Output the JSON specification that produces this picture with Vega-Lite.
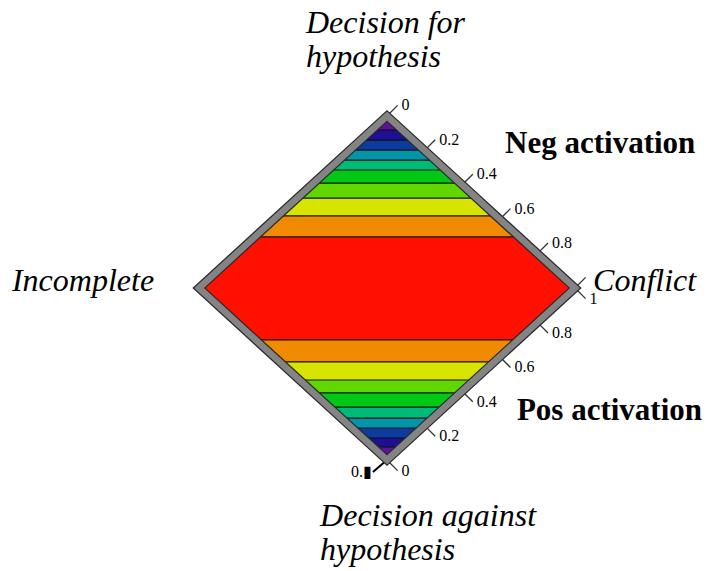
{
  "$schema": "https://vega.github.io/schema/vega-lite/v6.json",
  "width": 707,
  "height": 571,
  "autosize": {"type": "none"},
  "padding": 0,
  "background": "white",
  "config": {"view": {"stroke": null}},
  "datasets": {
    "bands": [
      {"band": "red", "level": "red", "y": -0.302, "xl": -0.698, "xr": 0.698},
      {"band": "red", "level": "red", "y": 0, "xl": -1, "xr": 1},
      {"band": "red", "level": "red", "y": 0.297, "xl": -0.703, "xr": 0.703},
      {"band": "orange_t", "level": "orange", "y": 0.297, "xl": -0.703, "xr": 0.703},
      {"band": "orange_t", "level": "orange", "y": 0.419, "xl": -0.581, "xr": 0.581},
      {"band": "orange_b", "level": "orange", "y": -0.430, "xl": -0.570, "xr": 0.570},
      {"band": "orange_b", "level": "orange", "y": -0.302, "xl": -0.698, "xr": 0.698},
      {"band": "yellow_t", "level": "yellow", "y": 0.419, "xl": -0.581, "xr": 0.581},
      {"band": "yellow_t", "level": "yellow", "y": 0.523, "xl": -0.477, "xr": 0.477},
      {"band": "yellow_b", "level": "yellow", "y": -0.535, "xl": -0.465, "xr": 0.465},
      {"band": "yellow_b", "level": "yellow", "y": -0.430, "xl": -0.570, "xr": 0.570},
      {"band": "yg_t", "level": "yellowgreen", "y": 0.523, "xl": -0.477, "xr": 0.477},
      {"band": "yg_t", "level": "yellowgreen", "y": 0.610, "xl": -0.390, "xr": 0.390},
      {"band": "yg_b", "level": "yellowgreen", "y": -0.610, "xl": -0.390, "xr": 0.390},
      {"band": "yg_b", "level": "yellowgreen", "y": -0.535, "xl": -0.465, "xr": 0.465},
      {"band": "green_t", "level": "green", "y": 0.610, "xl": -0.390, "xr": 0.390},
      {"band": "green_t", "level": "green", "y": 0.686, "xl": -0.314, "xr": 0.314},
      {"band": "green_b", "level": "green", "y": -0.692, "xl": -0.308, "xr": 0.308},
      {"band": "green_b", "level": "green", "y": -0.610, "xl": -0.390, "xr": 0.390},
      {"band": "sg_t", "level": "seagreen", "y": 0.686, "xl": -0.314, "xr": 0.314},
      {"band": "sg_t", "level": "seagreen", "y": 0.744, "xl": -0.256, "xr": 0.256},
      {"band": "sg_b", "level": "seagreen", "y": -0.756, "xl": -0.244, "xr": 0.244},
      {"band": "sg_b", "level": "seagreen", "y": -0.692, "xl": -0.308, "xr": 0.308},
      {"band": "teal_t", "level": "teal", "y": 0.744, "xl": -0.256, "xr": 0.256},
      {"band": "teal_t", "level": "teal", "y": 0.802, "xl": -0.198, "xr": 0.198},
      {"band": "teal_b", "level": "teal", "y": -0.814, "xl": -0.186, "xr": 0.186},
      {"band": "teal_b", "level": "teal", "y": -0.756, "xl": -0.244, "xr": 0.244},
      {"band": "blue_t", "level": "blue", "y": 0.802, "xl": -0.198, "xr": 0.198},
      {"band": "blue_t", "level": "blue", "y": 0.860, "xl": -0.140, "xr": 0.140},
      {"band": "blue_b", "level": "blue", "y": -0.872, "xl": -0.128, "xr": 0.128},
      {"band": "blue_b", "level": "blue", "y": -0.814, "xl": -0.186, "xr": 0.186},
      {"band": "navy_t", "level": "navy", "y": 0.860, "xl": -0.140, "xr": 0.140},
      {"band": "navy_t", "level": "navy", "y": 0.919, "xl": -0.081, "xr": 0.081},
      {"band": "navy_b", "level": "navy", "y": -0.924, "xl": -0.076, "xr": 0.076},
      {"band": "navy_b", "level": "navy", "y": -0.872, "xl": -0.128, "xr": 0.128},
      {"band": "purple_t", "level": "purple", "y": 0.919, "xl": -0.081, "xr": 0.081},
      {"band": "purple_t", "level": "purple", "y": 1.0, "xl": 0, "xr": 0},
      {"band": "purple_b", "level": "purple", "y": -1.0, "xl": 0, "xr": 0},
      {"band": "purple_b", "level": "purple", "y": -0.924, "xl": -0.076, "xr": 0.076}
    ],
    "contours": [
      {"y": 0.297, "xl": -0.703, "xr": 0.703},
      {"y": 0.419, "xl": -0.581, "xr": 0.581},
      {"y": 0.523, "xl": -0.477, "xr": 0.477},
      {"y": 0.610, "xl": -0.390, "xr": 0.390},
      {"y": 0.686, "xl": -0.314, "xr": 0.314},
      {"y": 0.744, "xl": -0.256, "xr": 0.256},
      {"y": 0.802, "xl": -0.198, "xr": 0.198},
      {"y": 0.860, "xl": -0.140, "xr": 0.140},
      {"y": 0.919, "xl": -0.081, "xr": 0.081},
      {"y": -0.302, "xl": -0.698, "xr": 0.698},
      {"y": -0.430, "xl": -0.570, "xr": 0.570},
      {"y": -0.535, "xl": -0.465, "xr": 0.465},
      {"y": -0.610, "xl": -0.390, "xr": 0.390},
      {"y": -0.692, "xl": -0.308, "xr": 0.308},
      {"y": -0.756, "xl": -0.244, "xr": 0.244},
      {"y": -0.814, "xl": -0.186, "xr": 0.186},
      {"y": -0.872, "xl": -0.128, "xr": 0.128},
      {"y": -0.924, "xl": -0.076, "xr": 0.076}
    ],
    "border": [
      {"i": 0, "x": 0, "y": 1},
      {"i": 1, "x": 1, "y": 0},
      {"i": 2, "x": 0, "y": -1},
      {"i": 3, "x": -1, "y": 0},
      {"i": 4, "x": 0, "y": 1},
      {"i": 5, "x": 0.5, "y": 0.5}
    ],
    "ticks": [
      {"axis": "neg", "t": "0", "x": 0, "y": 1, "x2": 0.0564, "y2": 1.0617},
      {"axis": "neg", "t": "0.2", "x": 0.2, "y": 0.8, "x2": 0.2564, "y2": 0.8617},
      {"axis": "neg", "t": "0.4", "x": 0.4, "y": 0.6, "x2": 0.4564, "y2": 0.6617},
      {"axis": "neg", "t": "0.6", "x": 0.6, "y": 0.4, "x2": 0.6564, "y2": 0.4617},
      {"axis": "neg", "t": "0.8", "x": 0.8, "y": 0.2, "x2": 0.8564, "y2": 0.2617},
      {"axis": "neg", "t": "1", "x": 1, "y": 0, "x2": 1.0564, "y2": 0.0617},
      {"axis": "pos", "t": "0", "x": 0, "y": -1, "x2": 0.0564, "y2": -1.0617},
      {"axis": "pos", "t": "0.2", "x": 0.2, "y": -0.8, "x2": 0.2564, "y2": -0.8617},
      {"axis": "pos", "t": "0.4", "x": 0.4, "y": -0.6, "x2": 0.4564, "y2": -0.6617},
      {"axis": "pos", "t": "0.6", "x": 0.6, "y": -0.4, "x2": 0.6564, "y2": -0.4617},
      {"axis": "pos", "t": "0.8", "x": 0.8, "y": -0.2, "x2": 0.8564, "y2": -0.2617},
      {"axis": "pos", "t": "1", "x": 1, "y": 0, "x2": 1.0564, "y2": -0.0617}
    ],
    "italicLabels": [
      {"text": "Decision for", "x": -0.431, "y": 1.483},
      {"text": "hypothesis", "x": -0.431, "y": 1.285},
      {"text": "Incomplete", "x": -1.995, "y": -0.017},
      {"text": "Conflict", "x": 1.096, "y": -0.017},
      {"text": "Decision against", "x": -0.356, "y": -1.384},
      {"text": "hypothesis", "x": -0.356, "y": -1.581}
    ],
    "boldLabels": [
      {"text": "Neg activation", "x": 0.628, "y": 0.785},
      {"text": "Pos activation", "x": 0.691, "y": -0.767}
    ]
  },
  "layer": [
    {
      "data": {"name": "bands"},
      "mark": {"type": "area", "orient": "horizontal", "opacity": 1},
      "encoding": {
        "y": {"field": "y", "type": "quantitative", "scale": {"domain": [-1.6453, 1.6744], "nice": false, "zero": false}, "axis": null},
        "x": {"field": "xl", "type": "quantitative", "stack": null, "scale": {"domain": [-2.0585, 1.7021], "nice": false, "zero": false}, "axis": null},
        "x2": {"field": "xr"},
        "detail": {"field": "band"},
        "color": {
          "field": "level", "type": "nominal", "legend": null,
          "scale": {
            "domain": ["purple", "navy", "blue", "teal", "seagreen", "green", "yellowgreen", "yellow", "orange", "red"],
            "range": ["#5b1499", "#1e0f94", "#0b3c9e", "#0096aa", "#00bb78", "#00c814", "#60d800", "#d6e400", "#f08a00", "#ff1000"]
          }
        }
      }
    },
    {
      "data": {"name": "contours"},
      "mark": {"type": "rule", "color": "#111111", "strokeWidth": 1.2},
      "encoding": {
        "y": {"field": "y", "type": "quantitative", "scale": {"domain": [-1.6453, 1.6744], "nice": false, "zero": false}, "axis": null},
        "x": {"field": "xl", "type": "quantitative", "scale": {"domain": [-2.0585, 1.7021], "nice": false, "zero": false}, "axis": null},
        "x2": {"field": "xr"}
      }
    },
    {
      "data": {"name": "ticks"},
      "mark": {"type": "rule", "color": "#333333", "strokeWidth": 1.3},
      "encoding": {
        "x": {"field": "x", "type": "quantitative", "scale": {"domain": [-2.0585, 1.7021], "nice": false, "zero": false}, "axis": null},
        "y": {"field": "y", "type": "quantitative", "scale": {"domain": [-1.6453, 1.6744], "nice": false, "zero": false}, "axis": null},
        "x2": {"field": "x2"},
        "y2": {"field": "y2"}
      }
    },
    {
      "data": {"values": [{"x": 0, "y": -1, "x2": -0.075, "y2": -1.07}]},
      "mark": {"type": "rule", "color": "#000000", "strokeWidth": 2},
      "encoding": {
        "x": {"field": "x", "type": "quantitative", "scale": {"domain": [-2.0585, 1.7021], "nice": false, "zero": false}, "axis": null},
        "y": {"field": "y", "type": "quantitative", "scale": {"domain": [-1.6453, 1.6744], "nice": false, "zero": false}, "axis": null},
        "x2": {"field": "x2"},
        "y2": {"field": "y2"}
      }
    },
    {
      "data": {"name": "border"},
      "mark": {"type": "line", "color": "#2a2a2a", "strokeWidth": 9, "strokeJoin": "miter", "strokeMiterLimit": 10},
      "encoding": {
        "x": {"field": "x", "type": "quantitative", "scale": {"domain": [-2.0585, 1.7021], "nice": false, "zero": false}, "axis": null},
        "y": {"field": "y", "type": "quantitative", "scale": {"domain": [-1.6453, 1.6744], "nice": false, "zero": false}, "axis": null},
        "order": {"field": "i", "type": "quantitative"}
      }
    },
    {
      "data": {"name": "border"},
      "mark": {"type": "line", "color": "#848484", "strokeWidth": 6.5, "strokeJoin": "miter", "strokeMiterLimit": 10},
      "encoding": {
        "x": {"field": "x", "type": "quantitative", "scale": {"domain": [-2.0585, 1.7021], "nice": false, "zero": false}, "axis": null},
        "y": {"field": "y", "type": "quantitative", "scale": {"domain": [-1.6453, 1.6744], "nice": false, "zero": false}, "axis": null},
        "order": {"field": "i", "type": "quantitative"}
      }
    },
    {
      "data": {"name": "ticks"},
      "transform": [{"filter": "!(datum.axis == 'neg' && datum.t == '1')"}],
      "mark": {"type": "text", "align": "left", "baseline": "middle", "dx": 4, "font": "Liberation Serif, serif", "fontSize": 16, "color": "#000000"},
      "encoding": {
        "x": {"field": "x2", "type": "quantitative", "scale": {"domain": [-2.0585, 1.7021], "nice": false, "zero": false}, "axis": null},
        "y": {"field": "y2", "type": "quantitative", "scale": {"domain": [-1.6453, 1.6744], "nice": false, "zero": false}, "axis": null},
        "text": {"field": "t"}
      }
    },
    {
      "data": {"values": [{"text": "0.▮", "x": -0.075, "y": -1.07}]},
      "mark": {"type": "text", "align": "right", "baseline": "middle", "dx": -1, "font": "Liberation Serif, serif", "fontSize": 16, "color": "#000000"},
      "encoding": {
        "x": {"field": "x", "type": "quantitative", "scale": {"domain": [-2.0585, 1.7021], "nice": false, "zero": false}, "axis": null},
        "y": {"field": "y", "type": "quantitative", "scale": {"domain": [-1.6453, 1.6744], "nice": false, "zero": false}, "axis": null},
        "text": {"field": "text"}
      }
    },
    {
      "data": {"name": "italicLabels"},
      "mark": {"type": "text", "align": "left", "baseline": "alphabetic", "font": "Liberation Serif, serif", "fontStyle": "italic", "fontSize": 32, "color": "#000000"},
      "encoding": {
        "x": {"field": "x", "type": "quantitative", "scale": {"domain": [-2.0585, 1.7021], "nice": false, "zero": false}, "axis": null},
        "y": {"field": "y", "type": "quantitative", "scale": {"domain": [-1.6453, 1.6744], "nice": false, "zero": false}, "axis": null},
        "text": {"field": "text"}
      }
    },
    {
      "data": {"name": "boldLabels"},
      "mark": {"type": "text", "align": "left", "baseline": "alphabetic", "font": "Liberation Serif, serif", "fontWeight": "bold", "fontSize": 31, "color": "#000000"},
      "encoding": {
        "x": {"field": "x", "type": "quantitative", "scale": {"domain": [-2.0585, 1.7021], "nice": false, "zero": false}, "axis": null},
        "y": {"field": "y", "type": "quantitative", "scale": {"domain": [-1.6453, 1.6744], "nice": false, "zero": false}, "axis": null},
        "text": {"field": "text"}
      }
    }
  ]
}
